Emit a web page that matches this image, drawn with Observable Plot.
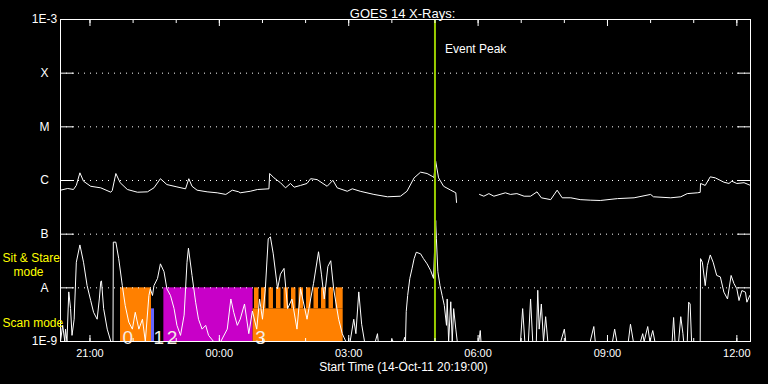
<!DOCTYPE html>
<html><head><meta charset="utf-8">
<script src="https://cdn.jsdelivr.net/npm/d3@7"></script>
<script src="https://cdn.jsdelivr.net/npm/@observablehq/plot@0.6"></script>
<style>html,body{margin:0;padding:0;background:#000;overflow:hidden}</style>
</head><body><div id="chart"></div>
<script>
// ---- data ----
const startTime = "2011-10-14T20:19:00Z";
const endTime = "2011-10-15T12:19:00Z";
const chartTitle = "GOES 14 X-Rays:";
const xTitle = "Start Time (14-Oct-11 20:19:00)";

// long channel (minutes after start, W/m^2); null = data gap
const longMinutes = [
  0,10,18,22,27,32,42,56,70,72,
  77,83,93,107,121,130,139,148,162,174,
  178.5,183,190,204,218,230,239,248,250,264,
  274,290,291,297,306,313,320,325,334,343,
  348,357,371,379,385,399,406,417,436,455,
  473,482,492,501,510,517,519.5,522,526,533,
  543,550,551,565,583,589,596,603,619,626,
  635,645,654,663,669,682,691,698,710,723,
  737,751,775,798,821,825,849,863,872,886,
  890,890.5,897,904,911,923,930,934,941,951,
  960];
const longFlux = [
  6.6e-7,7.1e-7,6.8e-7,8.1e-7,1.39e-6,9.7e-7,7.8e-7,7.3e-7,6.05e-7,6.5e-7,
  1.35e-6,9.1e-7,6.8e-7,6.05e-7,6.15e-7,7.3e-7,1.08e-6,8.4e-7,7.6e-7,7.0e-7,
  1.08e-6,7.8e-7,6.6e-7,6.15e-7,5.9e-7,5.5e-7,6.6e-7,6.15e-7,5.9e-7,6.3e-7,
  6.8e-7,7.0e-7,1.35e-6,1.12e-6,9.1e-7,7.3e-7,8.8e-7,7.5e-7,8.1e-7,8.8e-7,
  1.08e-6,1.04e-6,7.8e-7,1.01e-6,7.3e-7,6.3e-7,7.0e-7,6.3e-7,5.5e-7,4.97e-7,
  5.1e-7,6.3e-7,1.12e-6,1.43e-6,1.35e-6,1.2e-6,1.14e-6,2.29e-6,1.12e-6,7.8e-7,
  6.6e-7,5.9e-7,3.9e-7,null,5.5e-7,5.1e-7,5.7e-7,5.1e-7,5.9e-7,5.5e-7,
  5.7e-7,5.1e-7,5.1e-7,6.15e-7,4.76e-7,4.4e-7,6.6e-7,4.76e-7,4.76e-7,4.4e-7,
  4.3e-7,4.24e-7,4.6e-7,4.76e-7,5.5e-7,4.97e-7,4.76e-7,4.97e-7,5.7e-7,5.9e-7,
  6.0e-7,8.8e-7,8.1e-7,1.17e-6,1.12e-6,9.3e-7,8.8e-7,9.7e-7,8.8e-7,9.1e-7,
  8.1e-7];

// short channel
const shortMinutes = [
  0,3,6,7,9,11.5,14,16,19,22,
  27,32,37,42,46,51,54,56,57,60,
  65,70,73,73.5,77,81,86,90,95,100,
  104,109,114,118,123,125,128,130,135,139,
  144,148,153,158,162,167,172,176,178,183,
  188,192,197,202,206,213,223,232,237,241,
  246,250,256,262,267,273,277,281,285,289,
  292,296,302,306,311,316,322,329,334,343,
  348,352,359,363,367,372,376,380,387,392,
  397,403,408,411,415,419,423,438,441,442,
  460,461,463,477,479,480,481,483,486,489,
  492,495,501,505,510,515,519,522,523,525,
  528,531,534,537,538,540,543,545,547,550,
  552,582,584,585,640,643,646,651,654,657,
  662,664,666,669,672,675,678,696,701,703,
  737,742,744,768,771,774,790,793,797,807,
  810,812,817,820,824,827,851,853,855,860,
  863,866,867,872,874,876,878,890,890.5,893,
  897,900,904,908,913,918,923,928,933,937,
  941,944,948,953,955,959];
const shortFlux = [
  1e-9,2.0e-9,1e-9,1.7e-9,1e-9,8.4e-9,4.1e-9,1.3e-9,2.6e-9,3.0e-8,
  6.3e-8,3.0e-8,1.1e-8,5.8e-9,3.5e-9,2.6e-9,6.2e-9,1.3e-8,1.35e-8,4.1e-9,
  1.7e-9,1e-9,1e-9,7.1e-8,7.1e-8,3.5e-8,1.1e-8,4.7e-9,2.3e-9,1.7e-9,
  3.5e-9,1.7e-9,2.6e-9,1e-9,7.2e-9,9.6e-9,7.2e-9,1.1e-8,1.5e-8,2.8e-8,
  2.0e-8,9.6e-9,7.2e-9,4.1e-9,2.0e-9,1.3e-9,3.1e-9,3.0e-8,5.5e-8,1.7e-8,
  5.4e-9,2.6e-9,1.7e-9,2.0e-9,1.3e-9,1e-9,1e-9,1.7e-9,6.2e-9,3.5e-9,
  2.0e-9,2.6e-9,5.0e-9,1.4e-9,3.7e-9,1.7e-9,6.2e-9,2.6e-9,9.6e-9,8.2e-8,
  8.9e-8,4.3e-8,9.6e-9,1.8e-8,2.3e-8,4.1e-9,6.2e-9,1.7e-9,9.6e-9,2.6e-9,
  6.2e-9,1.2e-8,4.7e-8,1.8e-8,6.2e-9,2.5e-8,3.2e-8,9.6e-9,2.6e-9,1.4e-9,
  1e-9,1e-9,2.6e-9,1.4e-9,8.4e-9,2.1e-9,1e-9,1e-9,1.4e-9,1e-9,
  1e-9,1.1e-9,1e-9,1e-9,1.2e-9,1e-9,3.6e-9,7.2e-9,1.5e-8,2.26e-8,
  3.5e-8,4.6e-8,4.3e-8,3.5e-8,2.8e-8,2.1e-8,1.5e-8,1.8e-7,8.2e-8,2.0e-8,
  1.1e-8,7.2e-9,4.7e-9,2.0e-9,6.2e-9,1e-9,5.5e-9,1e-9,4.1e-9,1.7e-9,
  1e-9,1e-9,1.6e-9,1e-9,1e-9,4.1e-9,1e-9,1e-9,6.2e-9,1e-9,
  1e-9,9.0e-9,1.7e-9,5.0e-9,1e-9,2.9e-9,1e-9,1e-9,1.7e-9,1e-9,
  1e-9,1.9e-9,1e-9,1e-9,1.7e-9,1e-9,1e-9,2.1e-9,1e-9,1e-9,
  1.4e-9,1e-9,1.9e-9,1e-9,1.6e-9,1e-9,1e-9,2.8e-9,1e-9,1e-9,
  2.9e-9,1.4e-9,1e-9,1e-9,5.4e-9,5.0e-9,1e-9,1e-9,3.5e-8,3.0e-8,
  1.1e-8,2.6e-8,4.1e-8,3.0e-8,1.7e-8,1.6e-8,8.3e-9,6.2e-9,1.7e-8,1.2e-8,
  9.6e-9,5.8e-9,8.9e-9,8.3e-9,5.4e-9,7.2e-9];

// flare class levels (y axis)
const levelValues = [1e-3,1e-4,1e-5,1e-6,1e-7,1e-8,1e-9];
const levelLabels = ["1E-3","X","M","C","B","A","1E-9"];
const gridLevels = [1e-4,1e-5,1e-6,1e-7,1e-8];

// x axis ticks
const timeLabelTimes = ["2011-10-14T21:00:00Z","2011-10-15T00:00:00Z","2011-10-15T03:00:00Z",
  "2011-10-15T06:00:00Z","2011-10-15T09:00:00Z","2011-10-15T12:00:00Z"];
const timeLabels = ["21:00","00:00","03:00","06:00","09:00","12:00"];

// event peak
const eventPeak = "2011-10-15T05:00:00Z";
const eventLabel = "Event Peak";

// observing mode blocks (minutes after start)
const blockStart = [83.5, 126.6, 143.8, 268];
const blockEnd   = [126.6, 130.8, 268, 393.3];
const blockBottom = [1e-9, 1e-9, 1e-9, 1e-9];
const blockTop   = [1e-8, 4.06e-9, 1e-8, 4.06e-9];
const blockColor = ["#ff8000", "#6464ff", "#c800c8", "#ff8000"];
const blockLabel = ["0", "1", "2", "3"];
const blockLabelDx = [2, 2, 3, 2];
const stripeStart = [269.9,279.7,290.1,300.5,311,321.4,331.8,342.3,352.7,363.1,373.6,383.3];
const stripeEnd   = [276.2,285.9,296.3,306.8,317.2,327.6,338.1,348.5,359,369.4,379.8,393.3];
const stripeBottom = 4.06e-9, stripeTop = 1e-8;

// mode annotations (left margin)
const modeTexts = ["Sit & Stare", "mode", "Scan mode"];
const modeY = [3.5e-8, 2.0e-8, 2.17e-9];
const modeDx = [-58, -47, -58];

// ---- build ----
const t0 = new Date(startTime), t1 = new Date(endTime);
const toDate = m => new Date(+t0 + m * 60000);
const longData = longMinutes.map((m, i) => ({t: toDate(m), v: longFlux[i]}));
const shortData = shortMinutes.map((m, i) => ({t: toDate(m), v: shortFlux[i]}));
const blocks = blockStart.map((s, i) => ({s: toDate(s), e: toDate(blockEnd[i]), b: blockBottom[i], top: blockTop[i], c: blockColor[i], l: blockLabel[i]}));
const stripes = stripeStart.map((s, i) => ({s: toDate(s), e: toDate(stripeEnd[i])}));
const majorTicks = timeLabelTimes.map(d => new Date(d));
const hourTicks = d3.utcHour.range(t0, t1);
const fontFamily = "'Liberation Sans', Arial, sans-serif";

const modeMarks = modeTexts.map((t, i) =>
  Plot.text([t], {frameAnchor: "left", y: () => modeY[i], text: d => d, dx: modeDx[i], textAnchor: "start", fill: "#ffff00", fontSize: 12}));
const blockLabelMarks = blocks.map((b, i) =>
  Plot.text([b], {x: "s", y: "b", text: "l", textAnchor: "start", lineAnchor: "bottom", dx: blockLabelDx[i], dy: 2, fontSize: 19, fill: "#f4ece4", fontFamily: "'Liberation Sans Narrow', 'Liberation Sans', sans-serif"}));

const chart = Plot.plot({
  width: 768, height: 384,
  marginLeft: 60, marginRight: 18, marginTop: 19, marginBottom: 43,
  style: {background: "#000", color: "#fff", fontFamily, fontSize: "12px", overflow: "visible"},
  x: {type: "utc", domain: [t0, t1]},
  y: {type: "log", domain: [1e-9, 1e-3]},
  marks: [
    Plot.rect(blocks, {x1: "s", x2: "e", y1: "b", y2: "top", fill: "c"}),
    Plot.rect(stripes, {x1: "s", x2: "e", y1: () => stripeBottom, y2: () => stripeTop, fill: blockColor[3]}),
    Plot.ruleY(gridLevels, {stroke: "#fff", strokeDasharray: "1,5", strokeWidth: 1}),
    Plot.line(longData, {x: "t", y: "v", stroke: "#fff", strokeWidth: 1}),
    Plot.line(shortData, {x: "t", y: "v", stroke: "#fff", strokeWidth: 1}),
    ...blockLabelMarks,
    Plot.ruleX([eventPeak], {x: d => new Date(d), stroke: "#99cc00", strokeWidth: 2}),
    Plot.text([eventPeak], {x: d => new Date(d), text: () => eventLabel, frameAnchor: "top", dy: 25, dx: 10, textAnchor: "start", fill: "#fff", fontSize: 12}),
    Plot.frame({stroke: "#fff"}),
    // y labels
    Plot.axisY(levelValues, {anchor: "left", tickSize: 0, tickPadding: 16, textAnchor: "middle", tickFormat: d => levelLabels[levelValues.indexOf(d)], label: null, fontSize: 12}),
    Plot.axisY(gridLevels, {anchor: "left", tickSize: 14, dx: 14, fill: "none", label: null, stroke: "#fff"}),
    Plot.axisY(gridLevels, {anchor: "right", tickSize: 14, dx: -14, fill: "none", label: null, stroke: "#fff"}),
    // x ticks
    Plot.axisX(hourTicks, {anchor: "top", tickSize: 3, dy: 3, fill: "none", label: null, stroke: "#fff"}),
    Plot.axisX(majorTicks, {anchor: "top", tickSize: 6, dy: 6, fill: "none", label: null, stroke: "#fff"}),
    Plot.axisX(hourTicks, {anchor: "bottom", tickSize: 3, dy: -3, fill: "none", label: null, stroke: "#fff"}),
    Plot.axisX(majorTicks, {anchor: "bottom", tickSize: 6, dy: -6, fill: "none", label: null, stroke: "#fff"}),
    Plot.axisX(majorTicks, {anchor: "bottom", tickSize: 0, tickPadding: 8, tickFormat: d => timeLabels[majorTicks.findIndex(m => +m === +d)], label: null, fontSize: 11}),
    Plot.text([xTitle], {frameAnchor: "bottom", dy: 29, dx: -2, fill: "#fff", fontSize: 12}),
    Plot.text([chartTitle], {frameAnchor: "top", dy: -11, dx: -3, fill: "#fff", fontSize: 13}),
    ...modeMarks
  ]
});
document.getElementById("chart").appendChild(chart);
</script>
</body></html>
